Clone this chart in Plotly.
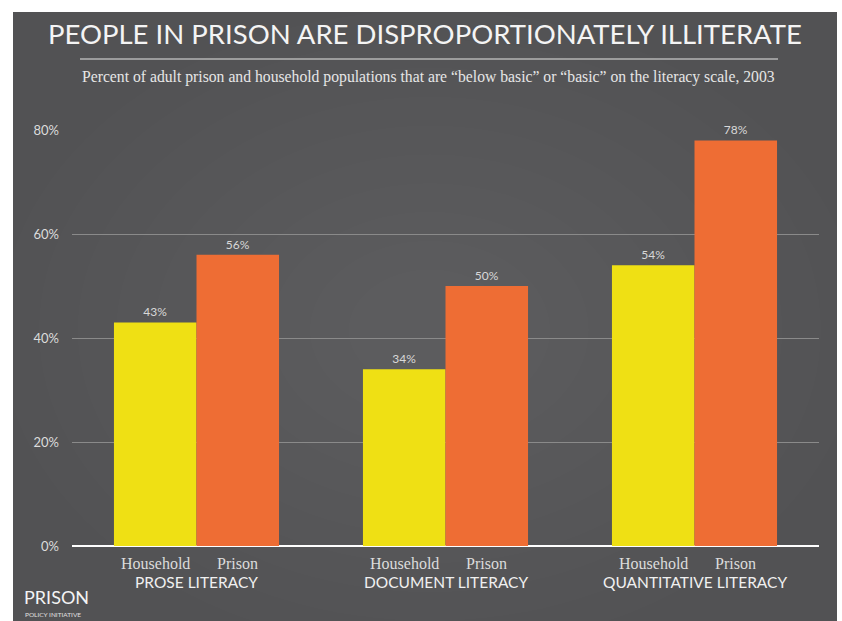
import plotly.graph_objects as go

# ---- data ----
groups = ["PROSE LITERACY", "DOCUMENT LITERACY", "QUANTITATIVE LITERACY"]
series_names = ["Household", "Prison"]
household = [43, 34, 54]
prison = [56, 50, 78]
y_ticks = [0, 20, 40, 60, 80]
y_tick_labels = ["0%", "20%", "40%", "60%", "80%"]

title = "PEOPLE IN PRISON ARE DISPROPORTIONATELY ILLITERATE"
subtitle = "Percent of adult prison and household populations that are \u201cbelow basic\u201d or \u201cbasic\u201d on the literacy scale, 2003"

# ---- layout geometry (pixels) ----
W, H = 842, 621
L, R, T, B = 72, 23, 130, 75
PW, PH = W - L - R, H - T - B
BARGAP = 0.337

def px(x):
    return (x - L) / PW

def py(y):
    return (H - B - y) / PH

SANS = "Lato, 'Open Sans', sans-serif"
SERIF = "'Liberation Serif', 'DejaVu Serif', serif"

fig = go.Figure()
colors = ["#efe014", "#ee6d34"]
for name, vals, col in zip(series_names, [household, prison], colors):
    fig.add_trace(go.Bar(
        x=groups, y=vals, name=name,
        marker=dict(color=col, line=dict(width=0)),
        text=[f"{v}%" for v in vals], textposition="outside",
        textfont=dict(family=SANS, size=12, color="#d8d8d8"),
        cliponaxis=False, showlegend=False,
    ))

annotations = []
annotations.append(dict(text=title, xref="paper", yref="paper", x=px(425), y=py(33),
                        showarrow=False, xanchor="center", yanchor="middle",
                        font=dict(family=SANS, size=27.5, color="#f4f4f4")))
annotations.append(dict(text=subtitle, xref="paper", yref="paper", x=px(428), y=py(77),
                        showarrow=False, xanchor="center", yanchor="middle",
                        font=dict(family=SERIF, size=15.7, color="#e6e6e6")))
off = (1 - BARGAP) / 4
for i, g in enumerate(groups):
    for j, s in enumerate(series_names):
        annotations.append(dict(text=s, xref="x", yref="paper", x=i + (-off if j == 0 else off),
                                y=py(563), showarrow=False, xanchor="center", yanchor="middle",
                                font=dict(family=SERIF, size=16, color="#dcdcdc")))
    annotations.append(dict(text=g, xref="x", yref="paper", x=i, y=py(582),
                            showarrow=False, xanchor="center", yanchor="middle",
                            font=dict(family=SANS, size=15.5, color="#f0f0f0")))
annotations.append(dict(text="PRISON", xref="paper", yref="paper", x=px(23), y=py(597),
                        showarrow=False, xanchor="left", yanchor="middle", borderpad=0,
                        font=dict(family=SANS, size=18, color="#f4f4f4")))
annotations.append(dict(text="POLICY INITIATIVE", xref="paper", yref="paper", x=px(24), y=py(614),
                        showarrow=False, xanchor="left", yanchor="middle", borderpad=0,
                        font=dict(family=SANS, size=6.5, color="#e0e0e0")))

shapes = [
    dict(type="rect", xref="paper", yref="paper", x0=px(13), x1=px(837), y0=py(12), y1=py(H + 5),
         fillcolor="#525254", line=dict(width=0), layer="below"),
]
# subtle lighter centre of the panel
cx, cy = 430, 330
for k in range(10):
    f = 1 - k * 0.09
    rx, ry = 430 * f, 320 * f
    shapes.append(dict(type="circle", xref="paper", yref="paper",
                       x0=px(cx - rx), x1=px(cx + rx), y0=py(cy + ry), y1=py(cy - ry),
                       fillcolor="rgba(255,255,255,0.008)", line=dict(width=0), layer="below"))
shapes.append(dict(type="line", xref="paper", yref="paper", x0=px(80), x1=px(778), y0=py(59), y1=py(59),
                   line=dict(color="#b4b4b4", width=1.5)))

fig.update_layout(
    width=W, height=H,
    margin=dict(l=L, r=R, t=T, b=B, pad=0),
    paper_bgcolor="#ffffff", plot_bgcolor="rgba(0,0,0,0)",
    barmode="group", bargap=BARGAP, bargroupgap=0,
    annotations=annotations, shapes=shapes,
    xaxis=dict(showticklabels=False, showgrid=False, zeroline=False, showline=False, ticks=""),
    yaxis=dict(range=[0, 80], tickvals=y_ticks, ticktext=y_tick_labels,
               showgrid=True, gridcolor="#8a8a8a", gridwidth=1,
               zeroline=True, zerolinecolor="#ffffff", zerolinewidth=2,
               showline=False, ticks="", ticklabelstandoff=12,
               tickfont=dict(family=SANS, size=13, color="#dcdcdc")),
)

fig.write_html("out.html")
